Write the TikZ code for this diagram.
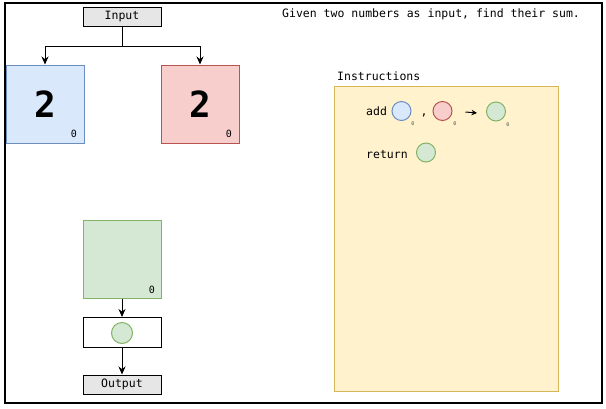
\documentclass[tikz,border=0pt]{standalone}
\usepackage{fontspec}
\setmonofont{DejaVu Sans Mono}
\usetikzlibrary{arrows.meta,positioning}
\definecolor{ArgBlue}{HTML}{DAE8FC}
\definecolor{ArgBlueLine}{HTML}{6C8EBF}
\definecolor{ArgRed}{HTML}{F8CECC}
\definecolor{ArgRedLine}{HTML}{B85450}
\definecolor{SumGreen}{HTML}{D5E8D4}
\definecolor{SumGreenLine}{HTML}{82B366}
\definecolor{InstrYellow}{HTML}{FFF2CC}
\definecolor{InstrYellowLine}{HTML}{D6B656}
\definecolor{IoGray}{HTML}{E6E6E6}

\begin{document}
\begin{tikzpicture}[x=1pt,y=-1pt,font=\ttfamily\fontsize{11.5}{13}\selectfont,
  txt/.style={anchor=base west, inner sep=0pt},
  iobox/.style={draw, fill=IoGray, line width=1pt, minimum width=78pt, minimum height=19pt, inner sep=0pt},
  cellbox/.style={draw, line width=1pt, minimum width=78pt, minimum height=78pt, inner sep=0pt, font=\ttfamily\bfseries\fontsize{36}{36}\selectfont},
  idx/.style={anchor=base, inner sep=0pt, font=\ttfamily\fontsize{10}{10}\selectfont},
  tinyidx/.style={anchor=base, inner sep=0pt, text=black!70, font=\ttfamily\fontsize{5}{5}\selectfont},
  slotdot/.style={circle, draw, inner sep=0pt, minimum size=19pt, line width=1pt},
  arr/.style={-{Stealth[length=8pt,width=7pt]}, line width=1pt},
  smallarr/.style={-{Stealth[length=5.5pt,width=5.5pt]}, line width=1pt}]
\useasboundingbox (0,0) rectangle (606,408);
\draw[line width=1.4pt] (5,3) rectangle (602,403);

% task text
\node[txt] (task) at (282,17) {Given two numbers as input, find their sum.};

% input and the two arguments
\node[iobox] (input) at (122,17) {Input};
\node[cellbox, fill=ArgBlue, draw=ArgBlueLine] (argA) at (45,104) {2};
\node[cellbox, fill=ArgRed, draw=ArgRedLine] (argB) at (200,104) {2};
\node[idx] (argAidx) at (74,137) {0};
\node[idx] (argBidx) at (229,137) {0};
\draw[arr] (input.south) -- ++(0,19) -| (argA.north);
\draw[arr] (input.south) -- ++(0,19) -| (argB.north);

% result and output
\node[cellbox, fill=SumGreen, draw=SumGreenLine] (sum) at (122,259) {};
\node[idx] (sumidx) at (152,293) {0};
\node[draw, line width=1pt, minimum width=78pt, minimum height=30pt, inner sep=0pt] (slot) at (122,332.5) {};
\node[slotdot, fill=SumGreen, draw=SumGreenLine, minimum size=21pt] (slotval) at (122,333) {};
\node[iobox] (output) at (122,384.5) {Output};
\draw[arr] (sum.south) -- (slot.north);
\draw[arr] (slot.south) -- (output.north);

% instructions
\node[txt] (instrlabel) at (337,80) {Instructions};
\node[draw=InstrYellowLine, fill=InstrYellow, line width=1pt, minimum width=224pt, minimum height=305pt, inner sep=0pt] (instr) at (446.75,239.4) {};
\node[txt] (addop) at (366,115) {add};
\node[slotdot, fill=ArgBlue, draw=ArgBlueLine] (addA) at (401.5,111) {};
\node[tinyidx] (addAidx) at (413,125) {0};
\node[anchor=base, inner sep=0pt] (comma) at (424,115) {,};
\node[slotdot, fill=ArgRed, draw=ArgRedLine] (addB) at (442.5,111) {};
\node[tinyidx] (addBidx) at (455,125) {0};
\node[slotdot, fill=SumGreen, draw=SumGreenLine] (addC) at (496,111.5) {};
\node[tinyidx] (addCidx) at (508,126) {0};
\draw[smallarr] ([xshift=13pt,yshift=-1pt]addB.east) -- ([xshift=-9pt,yshift=-1.5pt]addC.west);
\node[txt] (retop) at (366,158.5) {return};
\node[slotdot, fill=SumGreen, draw=SumGreenLine] (retC) at (426,152.5) {};
\end{tikzpicture}
\end{document}
